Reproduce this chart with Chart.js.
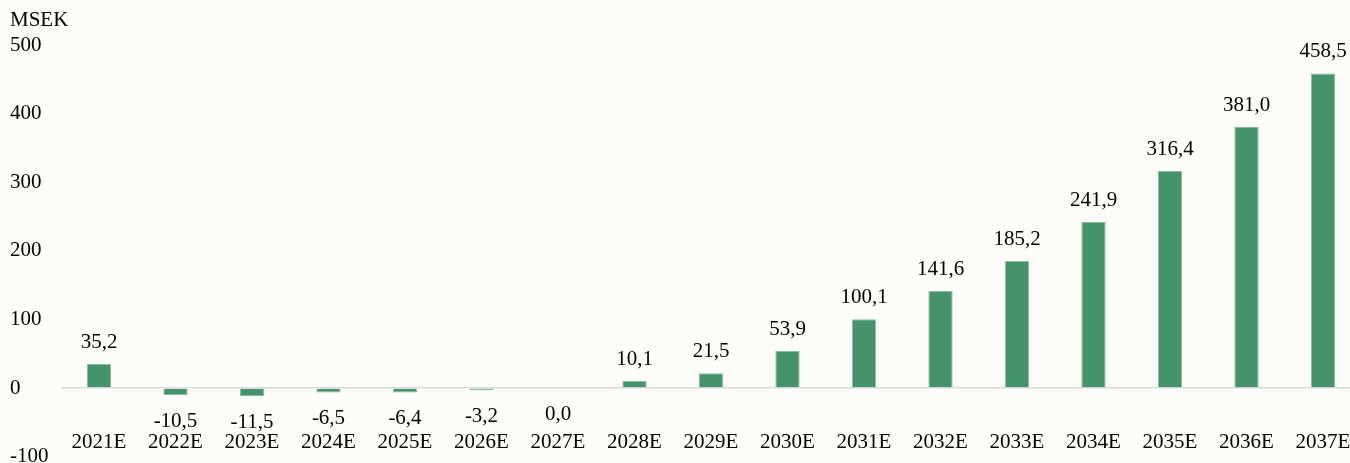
<!DOCTYPE html>
<html>
<head>
<meta charset="utf-8">
<script src="https://cdn.jsdelivr.net/npm/chart.js@4"></script>
<style>
  html, body { margin: 0; padding: 0; background: #fdfcf8; overflow: hidden; }
  #wrap { position: relative; width: 1362px; height: 470px; }
</style>
</head>
<body>
<div id="wrap"><canvas id="chart"></canvas></div>
<script>
// Chart data
const years = ['2021E', '2022E', '2023E', '2024E', '2025E', '2026E', '2027E', '2028E', '2029E',
    '2030E', '2031E', '2032E', '2033E', '2034E', '2035E', '2036E', '2037E'];
const values = [35.2, -10.5, -11.5, -6.5, -6.4, -3.2, 0.0, 10.1, 21.5,
    53.9, 100.1, 141.6, 185.2, 241.9, 316.4, 381.0, 458.5];
const unitLabel = 'MSEK';
const yMin = -100;
const yMax = 500;
const yStep = 100;

const fontFamily = '"Liberation Serif", "Times New Roman", serif';
const fontSize = 21;
Chart.defaults.font.family = fontFamily;
Chart.defaults.font.size = fontSize;
Chart.defaults.color = '#000000';

// Value labels above positive bars and below negative / zero bars
const valueLabels = {
    id: 'valueLabels',
    afterDatasetsDraw(chart) {
        const ctx = chart.ctx;
        const meta = chart.getDatasetMeta(0);
        ctx.save();
        ctx.font = fontSize + 'px ' + fontFamily;
        ctx.fillStyle = '#000000';
        ctx.textAlign = 'center';
        ctx.textBaseline = 'alphabetic';
        meta.data.forEach((bar, i) => {
            const v = values[i];
            const text = v.toFixed(1).replace('.', ',');
            const y = v > 0 ? bar.y - 16 : bar.y + 32;
            ctx.fillText(text, bar.x, y);
        });
        ctx.restore();
    }
};

new Chart(document.getElementById('chart'), {
    type: 'bar',
    data: {
        labels: years,
        datasets: [{
            data: values,
            backgroundColor: '#45936a',
            borderColor: '#86bb9d',
            borderWidth: 1,
            borderSkipped: 'start',
            barPercentage: 0.318,
            categoryPercentage: 1.0
        }]
    },
    options: {
        responsive: true,
        maintainAspectRatio: false,
        animation: false,
        layout: { padding: { left: 10, right: 0.75, top: 0, bottom: 13.4 } },
        plugins: {
            legend: { display: false },
            tooltip: { enabled: false },
            title: {
                display: true,
                text: unitLabel,
                align: 'start',
                color: '#000000',
                font: { family: fontFamily, size: fontSize, weight: 'normal' },
                padding: { top: 7.8, bottom: 12.0 }
            }
        },
        scales: {
            x: {
                grid: { display: false, drawTicks: false },
                border: { display: false },
                // mirrored labels sit inside the plot, just above the bottom edge
                ticks: { mirror: true, padding: 1.1, maxRotation: 0, autoSkip: false },
                afterFit(scale) {
                    scale.height = 0;
                    scale.paddingLeft = 0;
                    scale.paddingRight = 0;
                }
            },
            y: {
                min: yMin,
                max: yMax,
                ticks: { stepSize: yStep, crossAlign: 'far', padding: 0 },
                grid: {
                    drawTicks: false,
                    lineWidth: 1.5,
                    color: (c) => (c.tick && c.tick.value === 0) ? '#d9d9d9' : 'rgba(0,0,0,0)'
                },
                border: { display: false },
                afterFit(scale) {
                    scale.width = 50.75;
                    scale.paddingTop = 0;
                    scale.paddingBottom = 0;
                }
            }
        }
    },
    plugins: [valueLabels]
});
</script>
</body>
</html>
